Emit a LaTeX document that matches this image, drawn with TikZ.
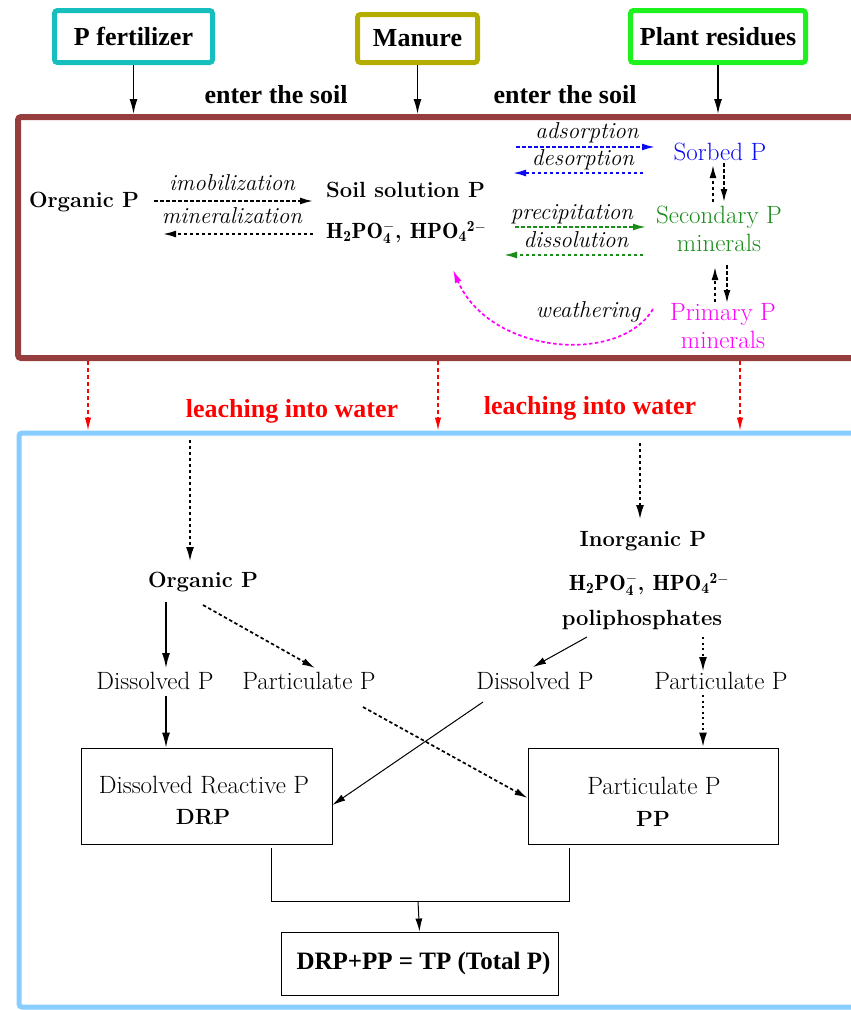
\documentclass[tikz,border=0pt]{standalone}
\usepackage{fontspec}
\newfontfamily\tms{Liberation Serif}
\usetikzlibrary{arrows.meta,calc}
\definecolor{cfert}{RGB}{22,190,190}
\definecolor{cman}{RGB}{180,173,0}
\definecolor{cplant}{RGB}{30,242,30}
\definecolor{cbrown}{RGB}{150,62,62}
\definecolor{cwater}{RGB}{135,205,255}
\definecolor{cgreen}{RGB}{25,140,25}
\definecolor{cblue}{RGB}{10,10,245}
\definecolor{cmag}{RGB}{255,0,255}
\definecolor{cred}{RGB}{255,0,0}
\newcommand{\chemf}{$\mathbf{H_2PO_4^{-}}$, $\mathbf{HPO_4}{}^{\mathbf{2}-}$}
\begin{document}
\begin{tikzpicture}[x=1pt,y=-1pt,
  srcbox/.style={draw, line width=5pt, rounded corners=3pt, inner sep=0pt,
    font=\tms\bfseries\fontsize{26}{30}\selectfont},
  tlab/.style={font=\tms\bfseries\fontsize{26}{30}\selectfont, inner sep=1pt},
  frm/.style={draw, rounded corners=3pt, inner sep=0pt},
  bt/.style={font=\bfseries\fontsize{22}{26}\selectfont, inner sep=1pt},
  rt/.style={font=\fontsize{25}{29}\selectfont\addfontfeature{FakeBold=0.8,LetterSpace=8}, inner sep=1pt},
  itl/.style={font=\itshape\fontsize{23}{27}\selectfont\addfontfeature{FakeBold=0.6}, inner sep=1pt},
  arrtip/.style={-{Latex[length=13pt,width=7pt]}},
  bigtip/.style={-{Latex[length=15pt,width=8pt]}},
  solidarr/.style={bigtip, line width=1.4pt},
  thinarr/.style={arrtip, line width=1pt},
  dasharr/.style={arrtip, line width=1.7pt, dash pattern=on 3.5pt off 2.5pt},
  bigdash/.style={bigtip, line width=2.4pt, dash pattern=on 3pt off 3pt},
  dotarr/.style={bigtip, line width=2.4pt, dash pattern=on 2pt off 3.5pt},
  redarr/.style={-{Latex[length=13pt,width=6.5pt]}, line width=1.2pt, draw=cred, dash pattern=on 4pt off 3pt},
  resbox/.style={draw, line width=0.9pt, inner sep=0pt, align=center},
]
\useasboundingbox (0,0) rectangle (851,1010);

% frames
\node[frm, draw=cbrown, line width=6pt, minimum width=862pt, minimum height=241pt] (soilbox) at (449,237.5) {};
\node[frm, draw=cwater, line width=5pt, minimum width=861pt, minimum height=574pt] (water) at (449.5,720) {};

% sources
\node[srcbox, draw=cfert, minimum width=158pt, minimum height=52pt] (fert) at (133.5,36.5) {P fertilizer};
\node[srcbox, draw=cman, minimum width=120pt, minimum height=48pt] (man) at (417.5,38.5) {Manure};
\node[srcbox, draw=cplant, minimum width=175pt, minimum height=52pt] (plant) at (718,36.5) {Plant residues};

\draw[solidarr] (fert.south) -- (fert.south |- soilbox.north);
\draw[solidarr] (man.south) -- (man.south |- soilbox.north);
\draw[solidarr] (plant.south) -- (plant.south |- soilbox.north);
\node[tlab] (ent1) at (276,95) {enter the soil};
\node[tlab] (ent2) at (565,95) {enter the soil};

% soil content
\node[bt] (org1) at (84,202) {Organic P};
\node[bt, anchor=west] (sol) at (325,190) {Soil solution P};
\node[bt, anchor=west] (chem1) at (325,232) {\chemf};

\node[rt, text=cblue] (sorb) at (720,152) {Sorbed P};
\node[rt, text=cgreen, align=center] (sec) at (719,229) {Secondary P\\[-1pt]minerals};
\node[rt, text=cmag, align=center] (prim) at (723,326) {Primary P\\[-1pt]minerals};

\coordinate (a1) at (154,201); \coordinate (a2) at (313,201);
\coordinate (b1) at (313,234); \coordinate (b2) at (163,234);
\draw[dasharr] (a1) -- (a2);
\draw[dasharr] (b1) -- (b2);
\node[itl] (imob) at (232,183) {imobilization};
\node[itl] (mine) at (232,216) {mineralization};

\coordinate (c1) at (516,147); \coordinate (c2) at (655,147);
\coordinate (d1) at (643,173); \coordinate (d2) at (513,173);
\draw[dasharr, draw=cblue] (c1) -- (c2);
\draw[dasharr, draw=cblue] (d1) -- (d2);
\node[itl] (ads) at (587,133) {adsorption};
\node[itl] (des) at (583,160) {desorption};

\coordinate (e1) at (515,227); \coordinate (e2) at (646,227);
\coordinate (f1) at (643,255); \coordinate (f2) at (504,255);
\draw[dasharr, draw=cgreen] (e1) -- (e2);
\draw[dasharr, draw=cgreen] (f1) -- (f2);
\node[itl] (pre) at (572,214) {precipitation};
\node[itl] (dis) at (576,240) {dissolution};

\coordinate (u1) at (713,202); \coordinate (u2) at (713,165);
\coordinate (u3) at (724,163); \coordinate (u4) at (724,202);
\coordinate (v1) at (715,302); \coordinate (v2) at (715,267);
\coordinate (v3) at (727,265); \coordinate (v4) at (727,303);
\draw[dasharr] (u1) -- (u2);
\draw[dasharr] (u3) -- (u4);
\draw[dasharr] (v1) -- (v2);
\draw[dasharr] (v3) -- (v4);

\node[itl] (weat) at (588,312) {weathering};
\coordinate (w1) at (653,309); \coordinate (w2) at (453,270);
\draw[dasharr, draw=cmag] (w1) .. controls (620,365) and (490,355) .. (w2);

% leaching
\coordinate (r1) at (88,0); \coordinate (r2) at (438,0); \coordinate (r3) at (740,0);
\draw[redarr] (soilbox.south -| r1) -- (water.north -| r1);
\draw[redarr] (soilbox.south -| r2) -- (water.north -| r2);
\draw[redarr] (soilbox.south -| r3) -- (water.north -| r3);
\node[tlab, text=cred] (leach1) at (292,411) {leaching into water};
\node[tlab, text=cred] (leach2) at (590,408) {leaching into water};

% water content
\node[bt] (org2) at (203,582) {Organic P};
\node[bt] (inorg) at (643,541) {Inorganic P};
\node[bt] (chem2) at (649,584) {\chemf};
\node[bt] (poly) at (642,620) {poliphosphates};

\coordinate (x1) at (190,440); \coordinate (x2) at (190,562);
\coordinate (y1) at (640,443); \coordinate (y2) at (640,520);
\draw[bigdash] (x1) -- (x2);
\draw[bigdash] (y1) -- (y2);

\node[rt] (dis1) at (155,681) {Dissolved P};
\node[rt] (par1) at (309,681) {Particulate P};
\node[rt] (dis2) at (535,681) {Dissolved P};
\node[rt] (par2) at (721,681) {Particulate P};

\node[resbox, minimum width=251pt, minimum height=96pt] (drp) at (206.5,796) {};
\node[resbox, minimum width=250pt, minimum height=96pt] (pp) at (653,796) {};
\node[rt] (drpt) at (204,785) {Dissolved Reactive P};
\node[bt] (drpb) at (203,817) {DRP};
\node[rt] (ppt) at (654,786) {Particulate P};
\node[bt] (ppb) at (653,819) {PP};

\node[resbox, minimum width=277pt, minimum height=63pt, font=\tms\bfseries\fontsize{25}{29}\selectfont] (tp) at (419.5,963.5) {\hspace*{8pt}DRP+PP = TP (Total P)};

\coordinate (g1) at (166,602); \coordinate (g2) at (166,668);
\coordinate (h1) at (203,605); \coordinate (h2) at (315,668);
\coordinate (k1) at (587,637); \coordinate (k2) at (533,667);
\coordinate (m1) at (703,637); \coordinate (m2) at (703,672);
\coordinate (n1) at (166,696); \coordinate (p1) at (483,702);
\coordinate (q1) at (363,707); \coordinate (s1) at (703,695);
\draw[solidarr] (g1) -- (g2);
\draw[dasharr] (h1) -- (h2);
\draw[thinarr] (k1) -- (k2);
\draw[dotarr] (m1) -- (m2);
\draw[solidarr] (n1) -- (drp.north -| n1);
\draw[thinarr] (p1) -- ([yshift=-9pt]drp.east);
\draw[dasharr] (q1) -- ([yshift=-2pt]pp.west);
\draw[dotarr] (s1) -- (pp.north -| s1);

\coordinate (j1) at (271,848); \coordinate (j2) at (569,848);
\coordinate (j3) at (271,901); \coordinate (j4) at (569,901);
\coordinate (jm) at (418,901);
\draw[line width=0.9pt] (j1) -- (j3) -- (j4) -- (j2);
\draw[thinarr] (jm) -- (tp.north);
\end{tikzpicture}
\end{document}
